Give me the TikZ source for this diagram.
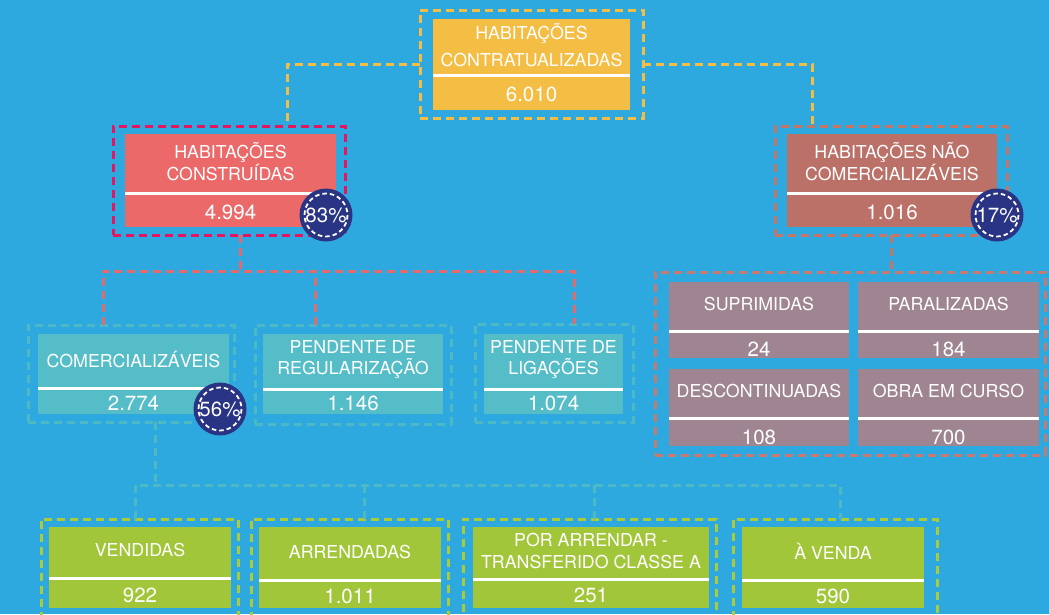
\documentclass[tikz,border=0pt]{standalone}
\usepackage{fontspec}
\setmainfont{TeX Gyre Heros}
\usetikzlibrary{calc}
\definecolor{bg}{HTML}{2EA9E0}
\definecolor{yel}{HTML}{F4BD44}
\definecolor{redf}{HTML}{EB6969}
\definecolor{mag}{HTML}{E7155F}
\definecolor{brn}{HTML}{BC7168}
\definecolor{brnD}{HTML}{C87567}
\definecolor{teal}{HTML}{55BDC8}
\definecolor{tealD}{HTML}{4DB9C4}
\definecolor{mauve}{HTML}{9E8591}
\definecolor{grpD}{HTML}{C97A70}
\definecolor{grn}{HTML}{A2C63A}
\definecolor{grnD}{HTML}{ABCB3A}
\definecolor{navy}{HTML}{293584}
\definecolor{redc}{HTML}{E56A6C}
\tikzset{
  frame/.style={draw, dash pattern=on 8pt off 5pt, line width=3pt, inner sep=0pt, outer sep=0pt, anchor=north west},
  cardfill/.style={inner sep=0pt, outer sep=0pt, anchor=north west, draw=none},
  lbl/.style={text=white, font=\fontsize{17.8}{21.5}\selectfont, align=center, inner sep=0pt},
  val/.style={text=white, font=\fontsize{20.5}{24}\selectfont, inner sep=0pt},
  conn/.style={dash pattern=on 8pt off 5pt, line width=3pt},
  pct/.style={circle, fill=navy, minimum size=53pt, inner sep=0pt, text=white, font=\fontsize{20.5}{24}\selectfont},
  pctring/.style={white, line width=1.8pt, dash pattern=on 4.5pt off 3pt},
  sepline/.style={white, line width=3pt},
}
\newcommand\mkframe[6]{%
  \node[frame, draw=#6, minimum width={#4-#2}, minimum height={#5-#3}] (#1) at (#2,#3) {};}
\newcommand\valshift{2}
\newcommand\mkcard[9]{%
  \node[cardfill, fill=#7, minimum width={#4-#2}, minimum height={#5-#3}] (#1) at (#2,#3) {};
  \draw[sepline] (#2,#6) -- (#4,#6);
  \node[lbl] (#1L) at ({(#2+#4)/2},{(#3+#6)/2-2}) {#8};
  \node[val] (#1V) at ({(#2+#4)/2},{(#6+#5)/2+\valshift}) {#9};}
\begin{document}
\begin{tikzpicture}[x=1pt,y=-1pt]
\useasboundingbox (0,0) rectangle (1049,614);
\clip (0,0) rectangle (1049,614);
\fill[bg] (0,0) rectangle (1049,614);

% top
\mkframe{topO}{420}{10}{643}{118}{yel}
\mkcard{topI}{433}{19}{630}{110}{75}{yel}{HABITAÇÕES\\[5.5pt]CONTRATUALIZADAS}{6.010}

% level 1
\mkframe{leftO}{113}{126}{345}{235}{mag}
\mkcard{leftI}{125}{134}{336}{227}{193}{redf}{HABITAÇÕES\\CONSTRUÍDAS}{4.994}
\mkframe{rightO}{775}{126}{1007}{235}{brnD}
\mkcard{rightI}{787}{134}{997}{227}{193}{brn}{HABITAÇÕES NÃO\\COMERCIALIZÁVEIS}{1.016}

% level 2 teal
\mkframe{comO}{28}{325}{234}{422}{tealD}
\mkcard{comI}{38}{334}{229}{414}{388}{teal}{COMERCIALIZÁVEIS}{2.774}
\mkframe{regO}{255}{325}{451}{424}{tealD}
\mkcard{regI}{263}{334}{443}{414}{389}{teal}{PENDENTE DE\\REGULARIZAÇÃO}{1.146}
\mkframe{ligO}{475}{324}{633}{422}{tealD}
\mkcard{ligI}{484}{334}{623}{414}{389}{teal}{PENDENTE DE\\LIGAÇÕES}{1.074}

% right group
\mkframe{grpO}{655}{272}{1045}{455}{grpD}
\renewcommand\valshift{5}
\mkcard{supI}{669}{282}{849}{358}{331}{mauve}{SUPRIMIDAS}{24}
\mkcard{parI}{858}{282}{1039}{358}{331}{mauve}{PARALIZADAS}{184}
\mkcard{desI}{669}{369}{849}{446}{418}{mauve}{DESCONTINUADAS}{108}
\mkcard{obrI}{858}{369}{1039}{446}{418}{mauve}{OBRA EM CURSO}{700}
\renewcommand\valshift{2}

% bottom green
\mkframe{vendO}{41}{519}{238}{630}{grnD}
\mkcard{vendI}{49}{527}{231}{608}{578}{grn}{VENDIDAS}{922}
\mkframe{arrO}{251}{519}{448}{630}{grnD}
\mkcard{arrI}{259}{527}{441}{608}{580}{grn}{ARRENDADAS}{1.011}
\mkframe{porO}{463}{519}{716}{630}{grnD}
\mkcard{porI}{473}{527}{709}{608}{579}{grn}{POR ARRENDAR -\\TRANSFERIDO CLASSE A}{251}
\mkframe{vendaO}{733}{519}{937}{630}{grnD}
\mkcard{vendaI}{742}{527}{924}{608}{580}{grn}{À VENDA}{590}

% connectors
\draw[conn, yel] (topO.west) -| ([xshift=58pt]leftO.north);
\draw[conn, yel] (topO.east) -| ([xshift=-79pt]rightO.north);
\draw[conn, redc] ([xshift=11pt]leftO.south) -- ++(0,36);
\draw[conn, redc] ([xshift=-28pt]comO.north) -- ++(0,-54) -| ([xshift=20pt]ligO.north);
\draw[conn, redc] ([xshift=-38pt]regO.north) -- ++(0,-54);
\draw[conn, brnD] (rightO.south) -- (rightO.south |- grpO.north);
\draw[conn, tealD] ([xshift=24pt]comO.south) -- ++(0,63);
\draw[conn, tealD] ([xshift=-4.5pt]vendO.north) -- ++(0,-34) -| ([xshift=5pt]vendaO.north);
\draw[conn, tealD] ([xshift=14.5pt]arrO.north) -- ++(0,-34);
\draw[conn, tealD] ([xshift=4.5pt]porO.north) -- ++(0,-34);

% percentage badges
\node[pct] (p83) at (326,215) {83\%};
\draw[pctring] (p83.center) circle (21.5);
\node[pct] (p17) at (997,215) {17\%};
\draw[pctring] (p17.center) circle (21.5);
\node[pct] (p56) at (220,409) {56\%};
\draw[pctring] (p56.center) circle (21.5);
\end{tikzpicture}
\end{document}
